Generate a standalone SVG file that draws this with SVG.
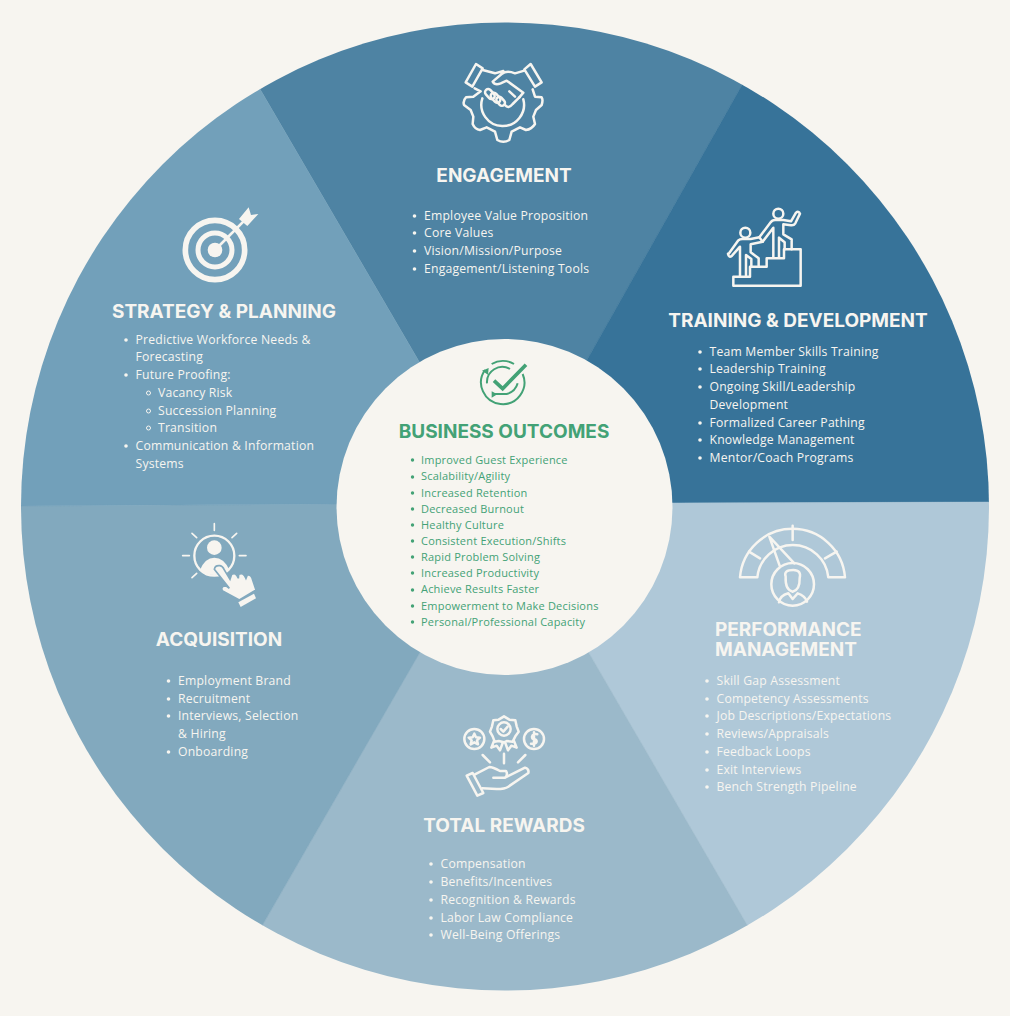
<svg xmlns="http://www.w3.org/2000/svg" width="1010" height="1016" viewBox="0 0 1010 1016">
<style>
.h{font-family:"Inter","Liberation Sans",sans-serif;font-weight:700;font-size:19px;fill:#f7f5f0;text-anchor:middle}
.t{font-family:"Open Sans","Liberation Sans",sans-serif;font-size:12.2px;letter-spacing:.2px;fill:#f7f5f0}
.g{fill:#43a276}
.gt{font-family:"Open Sans","Liberation Sans",sans-serif;font-size:11px;letter-spacing:.2px;fill:#43a276}
.s{fill:none;stroke:#f7f5f0;stroke-width:7.500;stroke-linecap:round;stroke-linejoin:round}
.f{fill:#f7f5f0}
.b{fill:#f7f5f0}
.o{fill:none;stroke:#f7f5f0;stroke-width:1}
.w{stroke-width:.5}
</style>
<defs><clipPath id="rim"><circle cx="505" cy="506.500" r="484"/></clipPath></defs>
<rect width="1010" height="1016" fill="#f7f5f0"/>
<g id="wheel" clip-path="url(#rim)">
<path class="w" fill="#4e83a3" stroke="#4e83a3" d="M504 507L208 0H790Z"/>
<path class="w" fill="#377399" stroke="#377399" d="M504 507L790 0H1010V502L672 503Z"/>
<path class="w" fill="#afc8d8" stroke="#afc8d8" d="M504 507L672 503L1010 502V1016H800Z"/>
<path class="w" fill="#9bb9ca" stroke="#9bb9ca" d="M504 507L800 1016H210Z"/>
<path class="w" fill="#82a9be" stroke="#82a9be" d="M504 507L210 1016H0V506L337 504Z"/>
<path class="w" fill="#72a0ba" stroke="#72a0ba" d="M504 507L337 504L0 506V0H208Z"/>
</g>
<g id="connectors"></g>
<g id="engagement">
<g transform="translate(440 50) scale(.3333)" class="s">
<path d="M108 42L128 55L97 110L77 97Z"/><path d="M272 42L305 97L285 110L253 58Z"/>
<path d="M104 115L122 124L100 140L78 142Q68 152 72 165L92 180L100 200L98 222Q105 238 120 240L140 232L165 245L172 270Q190 280 208 270L215 245L240 232L258 240Q275 238 285 222L280 200L288 180L305 165Q310 150 305 142L285 140L278 118"/>
<path d="M127 145A64 64 0 1 0 250 148"/>
<path d="M128 60L165 70L190 63M253 62L225 70Q200 60 185 72L158 95Q165 107 182 100L200 92L250 128L238 142M225 140L208 124"/>
<rect x="133" y="123" width="34" height="19" rx="9.500" transform="rotate(48 150 132)"/>
<rect x="150" y="134" width="34" height="19" rx="9.500" transform="rotate(48 167 143)"/>
<rect x="167" y="145" width="30" height="18" rx="9" transform="rotate(48 182 154)"/>
<path d="M195 165Q205 178 218 162L238 142"/>
</g>
<text class="h" x="504" y="182">ENGAGEMENT</text>
<circle class="b" cx="414.500" cy="216" r="1.800"/><text class="t" x="424" y="220">Employee Value Proposition</text>
<circle class="b" cx="414.500" cy="233" r="1.800"/><text class="t" x="424" y="237">Core Values</text>
<circle class="b" cx="414.500" cy="251" r="1.800"/><text class="t" x="424" y="255">Vision/Mission/Purpose</text>
<circle class="b" cx="414.500" cy="269" r="1.800"/><text class="t" x="424" y="273">Engagement/Listening Tools</text>
</g>
<g id="training">
<g transform="translate(710 195) scale(.3333)" class="s">
<path d="M70 245H120V215H170V190H222V163H272V272H70Z"/>
<circle cx="106" cy="113" r="15"/><circle cx="205" cy="56" r="15"/>
<path d="M148 127L182 82Q186 75 195 75H220L243 79L258 53Q266 47 270 56L256 85Q252 92 243 91L220 88V118L245 133V163M224 163V142L207 128V188M190 188V98L158 140"/>
<path d="M55 178L84 137Q89 132 98 132H122L148 127L158 140L122 148V172L146 190V214M124 214V192L108 180V243M90 243V155L66 182Q56 190 54 176"/>
</g>
<text class="h" x="798" y="327">TRAINING &amp; DEVELOPMENT</text>
<circle class="b" cx="700" cy="352" r="1.800"/><text class="t" x="709.500" y="356">Team Member Skills Training</text>
<circle class="b" cx="700" cy="369" r="1.800"/><text class="t" x="709.500" y="373">Leadership Training</text>
<circle class="b" cx="700" cy="387" r="1.800"/><text class="t" x="709.500" y="391">Ongoing Skill/Leadership</text>
<text class="t" x="709.500" y="409">Development</text>
<circle class="b" cx="700" cy="423" r="1.800"/><text class="t" x="709.500" y="427">Formalized Career Pathing</text>
<circle class="b" cx="700" cy="440" r="1.800"/><text class="t" x="709.500" y="444">Knowledge Management</text>
<circle class="b" cx="700" cy="458" r="1.800"/><text class="t" x="709.500" y="462">Mentor/Coach Programs</text>
</g>
<g id="performance">
<g transform="translate(725 515) scale(.3333)" class="s">
<path d="M45 187A158 158 0 0 1 360 187H310A107 107 0 0 0 97 187Z"/>
<path d="M203 32V75M72 110L105 130M335 110L300 130M165 155L133 65L208 145"/>
<circle cx="203" cy="208" r="64"/>
<path d="M182 185Q175 165 205 165Q230 165 224 190Q225 225 203 230Q180 225 182 185ZM162 262Q165 242 190 235L203 252L218 235Q240 242 246 260"/>
</g>
<text class="h" style="text-anchor:start"><tspan x="715" y="636">PERFORMANCE</tspan><tspan x="715" y="656">MANAGEMENT</tspan></text>
<circle class="b" cx="707" cy="681" r="1.800"/><text class="t" x="716.500" y="685">Skill Gap Assessment</text>
<circle class="b" cx="707" cy="699" r="1.800"/><text class="t" x="716.500" y="703">Competency Assessments</text>
<circle class="b" cx="707" cy="716" r="1.800"/><text class="t" x="716.500" y="720">Job Descriptions/Expectations</text>
<circle class="b" cx="707" cy="734" r="1.800"/><text class="t" x="716.500" y="738">Reviews/Appraisals</text>
<circle class="b" cx="707" cy="752" r="1.800"/><text class="t" x="716.500" y="756">Feedback Loops</text>
<circle class="b" cx="707" cy="770" r="1.800"/><text class="t" x="716.500" y="774">Exit Interviews</text>
<circle class="b" cx="707" cy="787" r="1.800"/><text class="t" x="716.500" y="791">Bench Strength Pipeline</text>
</g>
<g id="rewards">
<g transform="translate(450 705) scale(.3333)" class="s">
<circle cx="73" cy="102" r="30"/><circle cx="252" cy="102" r="30"/>
<path d="M73 86L78 97L90 98L81 106L84 118L73 112L62 118L65 106L56 98L68 97Z"/>
<path d="M162 34L178 44L196 46L200 64L206 80L196 94L188 110L170 108L162 112L146 108L134 110L128 94L120 80L126 64L130 46L146 44Z"/>
<circle cx="162" cy="72" r="20"/><path d="M152 72L160 80L173 65"/>
<path d="M132 108L124 128L140 122L150 136L158 114M192 108L200 128L184 122L174 136L166 114"/>
<path d="M262 88Q248 85 246 95Q246 102 252 102Q260 103 260 110Q258 118 243 116M252 82V122"/>
<path d="M98 150L120 172M162 146V175M226 150L204 172"/>
<path d="M50 212L68 204L100 264L82 272Z"/>
<path d="M75 208L118 186Q128 186 150 198H168Q175 210 165 218H130M165 218L225 188Q238 192 235 204L175 245Q165 252 140 252L97 250"/>
</g>
<text class="h" x="504" y="832">TOTAL REWARDS</text>
<circle class="b" cx="431" cy="864" r="1.800"/><text class="t" x="440.500" y="868">Compensation</text>
<circle class="b" cx="431" cy="882" r="1.800"/><text class="t" x="440.500" y="886">Benefits/Incentives</text>
<circle class="b" cx="431" cy="900" r="1.800"/><text class="t" x="440.500" y="904">Recognition &amp; Rewards</text>
<circle class="b" cx="431" cy="918" r="1.800"/><text class="t" x="440.500" y="922">Labor Law Compliance</text>
<circle class="b" cx="431" cy="935" r="1.800"/><text class="t" x="440.500" y="939">Well-Being Offerings</text>
</g>
<g id="acquisition">
<g transform="translate(170 515) scale(.3333)">
<circle cx="133" cy="122" r="60" fill="none" stroke="#f7f5f0" stroke-width="7"/>
<circle class="f" cx="133" cy="98" r="22"/>
<path class="f" d="M90 165Q105 128 133 128Q162 128 178 165Q160 180 133 180Q108 180 90 165Z"/>
<path class="s" style="stroke-width:5" d="M133 26V46M66 55L80 68M200 55L186 68M38 122H58M208 122H228M66 188L80 175"/>
<path class="f" stroke="#82a9be" stroke-width="5" d="M133 163Q135 150 150 152Q158 153 163 165L180 193L185 178Q198 170 205 190L206 178Q220 170 228 190L232 180Q244 178 248 195L258 225L208 255Q180 240 158 228Q150 218 165 210L178 220Z"/>
<path class="f" d="M205 262L252 236L258 250L212 276Z"/>
</g>
<text class="h" x="219" y="646">ACQUISITION</text>
<circle class="b" cx="168.500" cy="681" r="1.800"/><text class="t" x="178" y="685">Employment Brand</text>
<circle class="b" cx="168.500" cy="699" r="1.800"/><text class="t" x="178" y="703">Recruitment</text>
<circle class="b" cx="168.500" cy="716" r="1.800"/><text class="t" x="178" y="720">Interviews, Selection</text>
<text class="t" x="178" y="738">&amp; Hiring</text>
<circle class="b" cx="168.500" cy="752" r="1.800"/><text class="t" x="178" y="756">Onboarding</text>
</g>
<g id="strategy">
<g transform="translate(170 200) scale(.3333)">
<circle cx="135" cy="150" r="89" fill="none" stroke="#f7f5f0" stroke-width="17"/>
<circle cx="135" cy="150" r="51" fill="none" stroke="#f7f5f0" stroke-width="15"/>
<circle class="f" cx="135" cy="150" r="22"/>
<path d="M135 150L220 65" stroke="#f7f5f0" stroke-width="8"/>
<path class="f" d="M207 57L236 22L243 45L265 42L232 78Z"/>
</g>
<text class="h" x="224" y="318">STRATEGY &amp; PLANNING</text>
<circle class="b" cx="126" cy="340" r="1.800"/><text class="t" x="135.500" y="344">Predictive Workforce Needs &amp;</text>
<text class="t" x="135.500" y="361">Forecasting</text>
<circle class="b" cx="126" cy="375" r="1.800"/><text class="t" x="135.500" y="379">Future Proofing:</text>
<circle class="o" cx="148.500" cy="393" r="2"/><text class="t" x="158" y="397">Vacancy Risk</text>
<circle class="o" cx="148.500" cy="411" r="2"/><text class="t" x="158" y="415">Succession Planning</text>
<circle class="o" cx="148.500" cy="428" r="2"/><text class="t" x="158" y="432">Transition</text>
<circle class="b" cx="126" cy="446" r="1.800"/><text class="t" x="135.500" y="450">Communication &amp; Information</text>
<text class="t" x="135.500" y="468">Systems</text>
</g>
<g id="business-outcomes">
<circle cx="504.500" cy="507" r="168" fill="#f7f5f0"/>
<g transform="translate(390 350) scale(.3333)" fill="none" stroke="#43a276" stroke-width="6">
<path d="M285 60A65 65 0 1 0 398 72M305 42A65 65 0 0 1 372 42"/>
<path d="M291 100A46 46 0 0 1 360 57M310 132H350A46 46 0 0 0 383 100"/>
<path stroke-width="11" d="M312 92L338 116L408 44"/>
<path fill="#43a276" stroke="none" d="M276 62L296 54L294 74ZM305 124L322 133L305 143Z"/>
</g>
<text class="h" x="504" y="438" style="fill:#43a276">BUSINESS OUTCOMES</text>
<circle class="g" cx="412.500" cy="460" r="1.700"/><text class="gt" x="421" y="464">Improved Guest Experience</text>
<circle class="g" cx="412.500" cy="477" r="1.700"/><text class="gt" x="421" y="480">Scalability/Agility</text>
<circle class="g" cx="412.500" cy="493" r="1.700"/><text class="gt" x="421" y="497">Increased Retention</text>
<circle class="g" cx="412.500" cy="509" r="1.700"/><text class="gt" x="421" y="513">Decreased Burnout</text>
<circle class="g" cx="412.500" cy="525" r="1.700"/><text class="gt" x="421" y="529">Healthy Culture</text>
<circle class="g" cx="412.500" cy="541" r="1.700"/><text class="gt" x="421" y="545">Consistent Execution/Shifts</text>
<circle class="g" cx="412.500" cy="557" r="1.700"/><text class="gt" x="421" y="561">Rapid Problem Solving</text>
<circle class="g" cx="412.500" cy="573" r="1.700"/><text class="gt" x="421" y="577">Increased Productivity</text>
<circle class="g" cx="412.500" cy="590" r="1.700"/><text class="gt" x="421" y="593">Achieve Results Faster</text>
<circle class="g" cx="412.500" cy="606" r="1.700"/><text class="gt" x="421" y="610">Empowerment to Make Decisions</text>
<circle class="g" cx="412.500" cy="622" r="1.700"/><text class="gt" x="421" y="626">Personal/Professional Capacity</text>
</g>
</svg>
